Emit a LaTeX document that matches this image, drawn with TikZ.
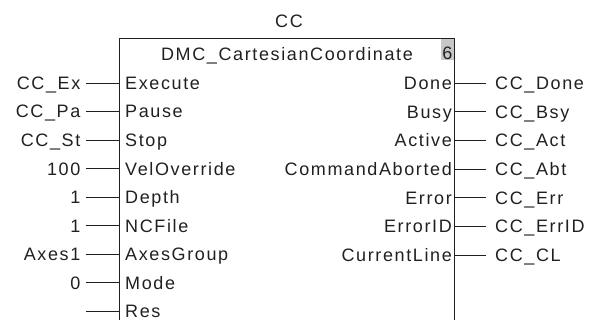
\documentclass[tikz,border=0pt]{standalone}
\usepackage{fontspec}
\setmainfont{Liberation Sans}[LetterSpace=9]
\definecolor{ink}{HTML}{231F20}
\begin{document}
\begin{tikzpicture}[x=1pt,y=-1pt,
  lbl/.style={inner xsep=0pt,inner ysep=0pt,text height=12.8pt,text depth=0pt,font=\fontsize{18}{21}\selectfont,text=ink},
  wire/.style={draw=ink,line width=0.9pt},
  boxline/.style={draw=ink,line width=1pt}]
\useasboundingbox (0,0) rectangle (592,320);
% number tag
\fill[black!22] (440.5,39) rectangle (454,60.5);
\node[lbl] (num) at (447.5,53) {6};
% block outline
\coordinate (bl) at (119.5,321);
\coordinate (tl) at (119.5,38.5);
\coordinate (tr) at (454,38.5);
\coordinate (br) at (454,321);
\draw[boxline] (bl) -- (tl) -- (tr) -- (br);
\node[lbl] (inst) at (289,21.5) {CC};
\node[lbl] (fb) at (287,54) {DMC\_CartesianCoordinate};
% inputs
\foreach \i/\pin/\val [count=\k from 0] in {ex/Execute/CC\_Ex, pa/Pause/CC\_Pa, st/Stop/CC\_St, vo/VelOverride/100, de/Depth/1, nc/NCFile/1, ag/AxesGroup/Axes1, mo/Mode/0, re/Res/{}}{
  \pgfmathsetmacro{\yy}{83+28.55*\k}
  \coordinate (p\i) at (119.5,\yy);
  \node[lbl,anchor=west] (in\i) at (125,\yy) {\pin};
  \node[lbl,anchor=east] (v\i) at (80.5,\yy) {\val};
  \coordinate (w\i) at (85.5,\yy);
  \draw[wire] (w\i) -- (p\i);
}
% outputs
\foreach \i/\pin/\val [count=\k from 0] in {dn/Done/CC\_Done, bs/Busy/CC\_Bsy, ac/Active/CC\_Act, ca/CommandAborted/CC\_Abt, er/Error/CC\_Err, ei/ErrorID/CC\_ErrID, cl/CurrentLine/CC\_CL}{
  \pgfmathsetmacro{\yy}{83+28.7*\k}
  \coordinate (q\i) at (454,\yy);
  \node[lbl,anchor=east] (out\i) at (452,\yy) {\pin};
  \node[lbl,anchor=west] (o\i) at (495,\yy) {\val};
  \coordinate (u\i) at (485.5,\yy);
  \draw[wire] (q\i) -- (u\i);
}
\end{tikzpicture}
\end{document}
